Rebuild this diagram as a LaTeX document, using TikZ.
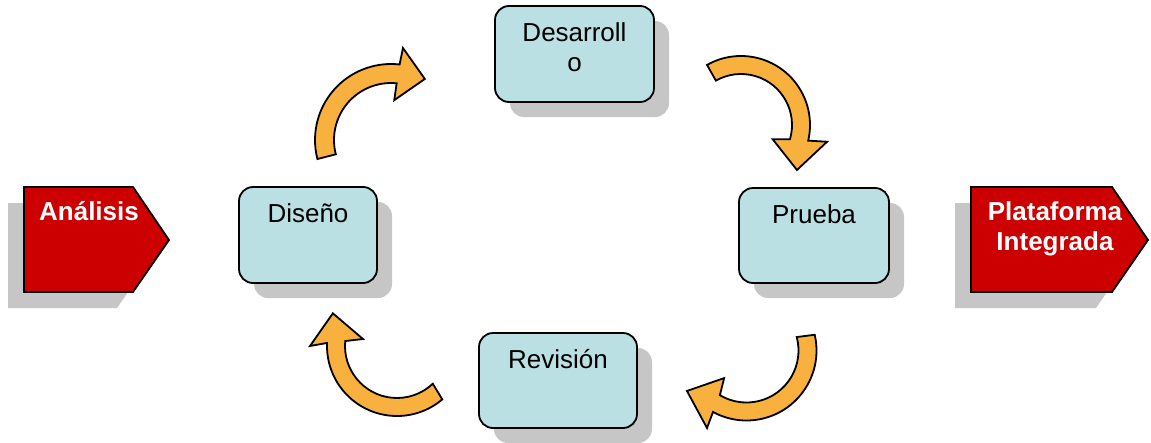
\documentclass[tikz,border=0pt]{standalone}
\usepackage{fontspec}
\setmainfont{Liberation Sans}
\usetikzlibrary{calc,shadows}
\definecolor{boxfill}{HTML}{BBE0E3}
\definecolor{redfill}{HTML}{CC0000}
\definecolor{flowfill}{HTML}{F8B13E}
\definecolor{shadowgray}{HTML}{C6C6C6}

\begin{document}
\begin{tikzpicture}[x=1pt,y=-1pt,
  boxshadow/.style={drop shadow={shadow xshift=15pt, shadow yshift=-15pt, fill=shadowgray, opacity=1}},
  tagshadow/.style={drop shadow={shadow xshift=-16pt, shadow yshift=-16pt, fill=shadowgray, opacity=1}},
  stepbox/.style={draw=black, line width=1.8pt, fill=boxfill, rounded corners=14pt,
    inner sep=0pt, boxshadow},
  steptext/.style={anchor=base, inner sep=0pt, font=\fontsize{26}{29.5}\selectfont, align=center},
  tag/.style={draw=black, line width=1.8pt, fill=redfill, line join=miter, tagshadow},
  tagtext/.style={anchor=base, inner sep=0pt, text=white, align=center,
    font=\fontsize{26}{30}\selectfont\bfseries},
  flow/.style={draw=black, line width=1.8pt, fill=flowfill, line join=miter}
]
\useasboundingbox (0,0) rectangle (1151,442);

% --- start and end tags ---
\coordinate (an) at (24,187);
\draw[tag] (an) -- ++(109,0) -- ++(36,53) -- ++(-36,52) -- ++(-109,0) -- cycle;
\node[tagtext] (analisis) at (89,220) {Análisis};

\coordinate (pl) at (971,187);
\draw[tag] (pl) -- ++(141,0) -- ++(36,53) -- ++(-36,52) -- ++(-141,0) -- cycle;
% the base anchor of a two-line node sits on its last line
\node[tagtext] (plataforma) at (1055,250) {Plataforma\\Integrada};

% --- process steps ---
\node[stepbox, minimum width=159pt, minimum height=96pt] (desarrollo) at (574.5,54) {};
\node[stepbox, minimum width=138pt, minimum height=96pt] (diseno) at (308,235) {};
\node[stepbox, minimum width=150pt, minimum height=95pt] (prueba) at (814,235.5) {};
\node[stepbox, minimum width=158pt, minimum height=95pt] (revision) at (558,380.5) {};

\node[steptext] (desarrollo-t) at ($(desarrollo.north)+(0,66)$) {Desarroll\\o};
\node[steptext] (diseno-t) at ($(diseno.north)+(0,36)$) {Diseño};
\node[steptext] (prueba-t) at ($(prueba.north)+(0,36.5)$) {Prueba};
\node[steptext] (revision-t) at ($(revision.north)+(0,36.5)$) {Revisión};

% --- curved block arrows between the steps (centre of each arc) ---
\coordinate (c1) at (391,140);
\coordinate (c2) at (741,125);
\coordinate (c3) at (746.5,350.5);
\coordinate (c4) at (397,346);

% Diseño -> Desarrollo
\draw[flow] ($(c1)+(165.5:76)$) arc[start angle=165.5, end angle=276.5, radius=76]
  -- ($(c1)+(277.4:92.8)$) -- ($(c1)+(299:69.8)$) -- ($(c1)+(274.7:40)$)
  -- ($(c1)+(275.7:57)$) arc[start angle=275.7, end angle=165.5, radius=57] -- cycle;

% Desarrollo -> Prueba
\draw[flow] ($(c2)+(240.5:69)$) arc[start angle=240.5, end angle=373.1, radius=69]
  -- ($(c2)+(371:87.7)$) -- ($(c2)+(398.8:71.8)$) -- ($(c2)+(384.3:34.8)$)
  -- ($(c2)+(376.3:51)$) arc[start angle=376.3, end angle=240.5, radius=51] -- cycle;

% Prueba -> Revisión
\draw[flow] ($(c3)+(-13:70)$) arc[start angle=-13, end angle=118.6, radius=70]
  -- ($(c3)+(117:87)$) -- ($(c3)+(145.8:72)$) -- ($(c3)+(129:35.5)$)
  -- ($(c3)+(120.8:52)$) arc[start angle=120.8, end angle=-15, radius=52] -- cycle;

% Revisión -> Diseño
\draw[flow] ($(c4)+(49.7:70)$) arc[start angle=49.7, end angle=182.5, radius=70]
  -- ($(c4)+(180:87)$) -- ($(c4)+(207:72)$) -- ($(c4)+(191.6:34.7)$)
  -- ($(c4)+(185.5:52)$) arc[start angle=185.5, end angle=46.5, radius=52] -- cycle;

\end{tikzpicture}
\end{document}
